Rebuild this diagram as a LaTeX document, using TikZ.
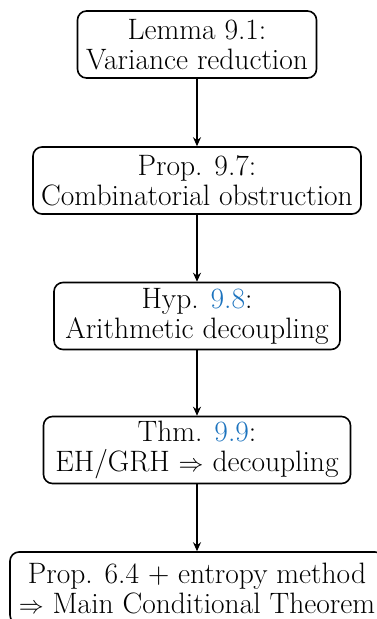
\documentclass[tikz,border=0pt]{standalone}
\usetikzlibrary{arrows.meta}
\definecolor{linkblue}{RGB}{28,115,190}
\begin{document}
\begin{tikzpicture}[x=1pt,y=-1pt,
  box/.style={draw, line width=1.6pt, rounded corners=9pt, align=center,
    minimum height=67pt, inner sep=0pt, font=\fontsize{29.5}{30}\selectfont},
  conn/.style={line width=1.4pt, -{Stealth[length=9pt,width=8pt]}}]
\useasboundingbox (0,0) rectangle (377,619);
\node[box, minimum width=239pt] (a) at (197,44.5) {Lemma 9.1:\\Variance reduction};
\node[box, minimum width=328pt] (b) at (197,180.5) {Prop. 9.7:\\Combinatorial obstruction};
\node[box, minimum width=286pt] (c) at (197,316) {Hyp. \textcolor{linkblue}{9.8}:\\Arithmetic decoupling};
\node[box, minimum width=307pt] (d) at (197,450) {Thm. \textcolor{linkblue}{9.9}:\\EH/GRH $\Rightarrow$ decoupling};
\node[box, minimum width=374pt, minimum height=72pt] (e) at (197,588) {Prop. 6.4 + entropy method\\$\Rightarrow$ Main Conditional Theorem};
\draw[conn] (a) -- (b);
\draw[conn] (b) -- (c);
\draw[conn] (c) -- (d);
\draw[conn] (d) -- (e);
\end{tikzpicture}
\end{document}
